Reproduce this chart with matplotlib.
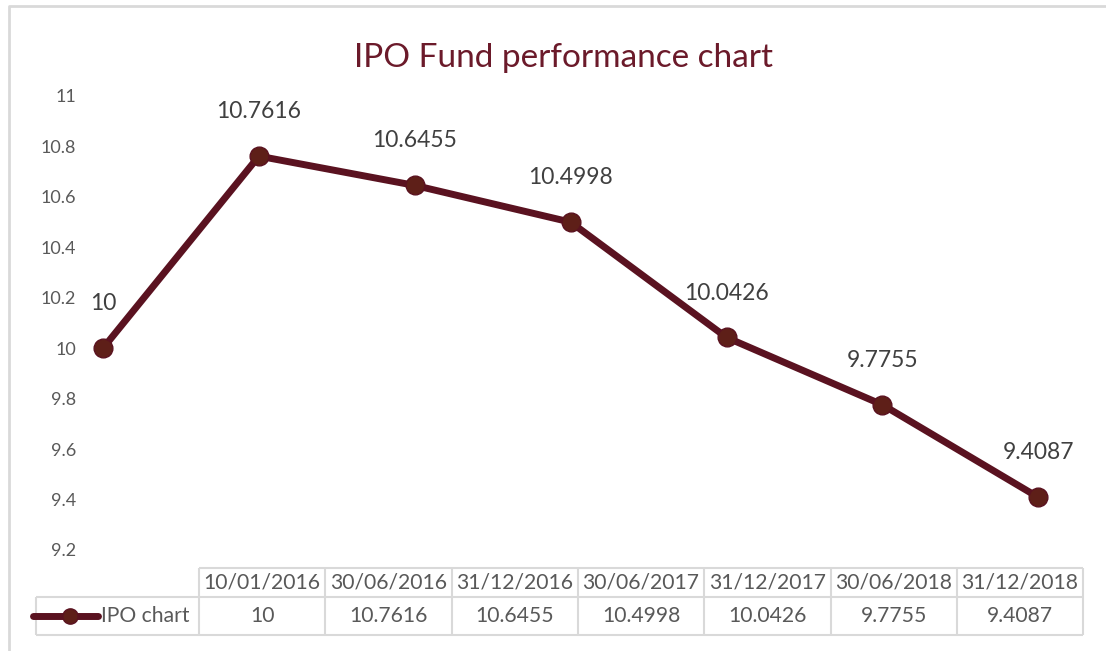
import matplotlib.pyplot as plt

dates = ['10/01/2016', '30/06/2016', '31/12/2016', '30/06/2017',
         '31/12/2017', '30/06/2018', '31/12/2018']
values = [10, 10.7616, 10.6455, 10.4998, 10.0426, 9.7755, 9.4087]
series_name = 'IPO chart'
yticks = [9.2, 9.4, 9.6, 9.8, 10, 10.2, 10.4, 10.6, 10.8, 11]

LINE = '#5A1220'
FILL = '#5E1F18'
TEXT = '#595959'
GRID = '#D9D9D9'

plt.rcParams['font.family'] = ['Lato', 'DejaVu Sans']

W, H = 1106, 651
fig = plt.figure(figsize=(W / 100, H / 100), dpi=100)

# main plot area (pixel layout)
ax = fig.add_axes([97 / W, (H - 550) / H, 988 / W, 454 / H])
xs = list(range(len(values)))
ax.plot(xs, values, color=LINE, lw=5, marker='o', ms=13.5,
        mfc=FILL, mec=LINE, mew=1, clip_on=False, zorder=3)
for x, v in zip(xs, values):
    ax.annotate(f'{v:g}', (x, v), xytext=(0, 32), textcoords='offset points',
                ha='center', va='center', fontsize=16.5, color='#404040')
ax.set_xlim(-0.0385, 6.299)
ax.set_ylim(9.2, 11)
ax.set_yticks(yticks)
ax.set_yticklabels([f'{t:g}' for t in yticks])
ax.set_xticks([])
ax.tick_params(axis='y', length=0, pad=15, labelsize=13, labelcolor=TEXT)
for s in ax.spines.values():
    s.set_visible(False)

fig.text(563 / W, (H - 58) / H, 'IPO Fund performance chart', ha='center',
         va='center', fontsize=24, color='#6B1A2A')

# data table below plot
tb = fig.add_axes([0, 0, 1, 1], facecolor='none')
tb.set_xlim(0, W)
tb.set_ylim(H, 0)
tb.axis('off')

col0, colw = 199, 126.3
top, mid, bot = 568, 597, 635
right = col0 + colw * len(dates)
kw = dict(color=GRID, lw=1.5, solid_capstyle='butt')
tb.plot([col0, right], [top, top], **kw)
tb.plot([36, right], [mid, mid], **kw)
tb.plot([36, right], [bot, bot], **kw)
tb.plot([36, 36], [mid, bot], **kw)
for j in range(len(dates) + 1):
    tb.plot([col0 + colw * j] * 2, [top, bot], **kw)
for j, (d, v) in enumerate(zip(dates, values)):
    cx = col0 + colw * (j + 0.5)
    tb.text(cx, (top + mid) / 2, d, ha='center', va='center', fontsize=15.2, color=TEXT)
    tb.text(cx, (mid + bot) / 2, f'{v:g}', ha='center', va='center', fontsize=15.2, color=TEXT)

tb.plot([33, 98], [616, 616], color=LINE, lw=5, solid_capstyle='round')
tb.plot([70], [616], marker='o', ms=11, mfc=FILL, mec=LINE, ls='none')
tb.text(101, 616, series_name, ha='left', va='center', fontsize=15.2, color=TEXT)

# chart frame
tb.plot([8.5, 8.5, W], [H, 5.5, 5.5], color=GRID, lw=2)

fig.savefig('out.png', dpi=100)
